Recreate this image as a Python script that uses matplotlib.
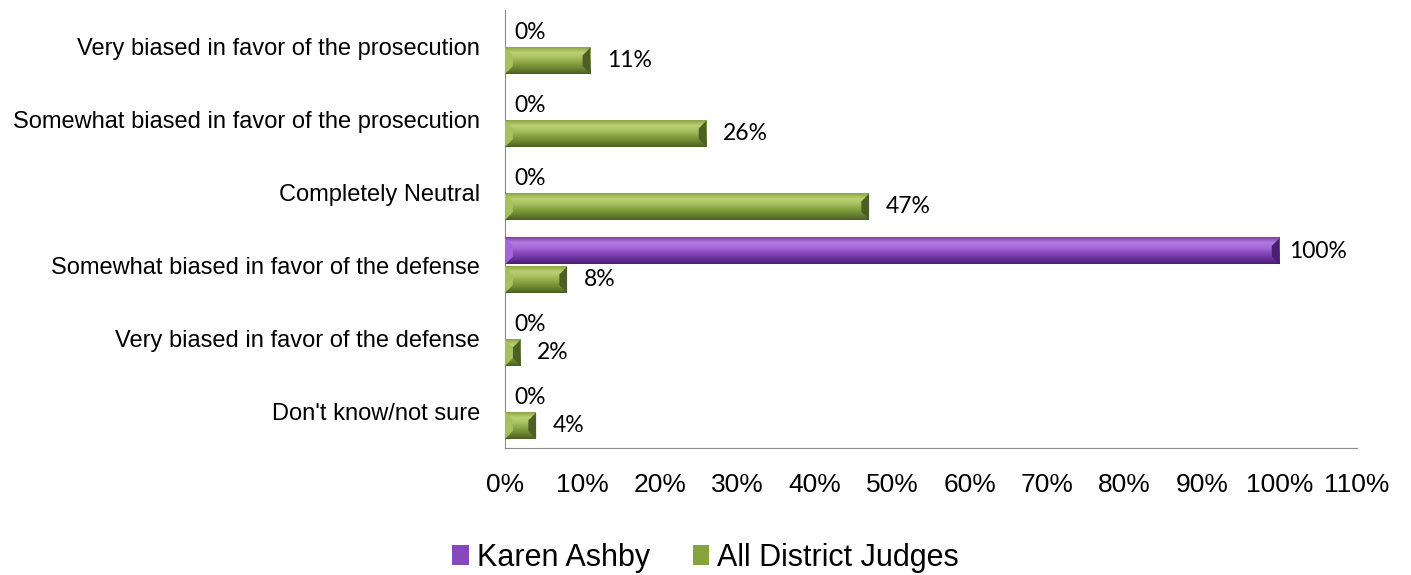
import matplotlib.pyplot as plt
from matplotlib.patches import Polygon
from matplotlib.colors import LinearSegmentedColormap
import numpy as np

categories = ['Very biased in favor of the prosecution',
              'Somewhat biased in favor of the prosecution',
              'Completely Neutral',
              'Somewhat biased in favor of the defense',
              'Very biased in favor of the defense',
              "Don't know/not sure"]
karen = [0, 0, 0, 100, 0, 0]
judges = [11, 26, 47, 8, 2, 4]
xticks = np.arange(0, 111, 10)

# top -> bottom shading of the bars
purple = ['#7c40b0', '#b37ce0', '#a468d6', '#8748bc', '#6a329c', '#4a1f6e']
green = ['#8ca448', '#bad174', '#a6c062', '#87a23f', '#6a8432', '#4b6024']

fig = plt.figure(figsize=(14.11, 5.75), dpi=100)
ax = fig.add_axes([0.358, 0.2209, 0.6037, 0.7617])

y = np.arange(len(categories))
h = 0.36
off = 0.195


def bevel(ax, bar, cols):
    # fake 3d bevel like the office chart
    x0, y0 = bar.get_x(), bar.get_y()
    w, hh = bar.get_width(), bar.get_height()
    if w <= 0:
        return
    x1, y1 = x0 + w, y0 + hh
    cmap = LinearSegmentedColormap.from_list('b', cols)
    grad = np.linspace(0, 1, 64).reshape(-1, 1)
    ax.imshow(grad, cmap=cmap, extent=(x0, x1, y1, y0), aspect='auto',
              interpolation='bilinear', zorder=3)
    bx = min(1.0, w / 2)
    by = hh * 0.3
    ax.add_patch(Polygon([[x1, y0], [x1, y1], [x1 - bx, y1 - by], [x1 - bx, y0 + by]],
                         closed=True, fc=cols[-1], ec='none', zorder=4))
    ax.add_patch(Polygon([[x0, y0], [x0, y1], [x0 + bx, y1 - by], [x0 + bx, y0 + by]],
                         closed=True, fc=cols[2], ec='none', zorder=4))


b1 = ax.barh(y - off, karen, height=h, color=purple[3], label='Karen Ashby', zorder=2)
b2 = ax.barh(y + off, judges, height=h, color=green[3], label='All District Judges', zorder=2)
for b in b1:
    bevel(ax, b, purple)
for b in b2:
    bevel(ax, b, green)

for yy, v in zip(y - off, karen):
    ax.annotate(f'{v}%', (v, yy), xytext=(7, 0), textcoords='offset points',
                va='center', ha='left', fontsize=16.5, family='Lato')
for yy, v in zip(y + off, judges):
    ax.annotate(f'{v}%', (v, yy), xytext=(12, 0), textcoords='offset points',
                va='center', ha='left', fontsize=16.5, family='Lato')

ax.set_xlim(0, 110)
ax.set_ylim(len(categories) - 0.5, -0.5)
ax.set_yticks(y)
ax.set_yticklabels(categories, fontsize=17, family='Liberation Sans')
ax.set_xticks(xticks)
ax.set_xticklabels([f'{t}%' for t in xticks], fontsize=19, family='Liberation Sans')
ax.tick_params(axis='y', length=0, pad=18)
ax.tick_params(axis='x', length=0, pad=18)
for s in ['top', 'right']:
    ax.spines[s].set_visible(False)
for s in ['left', 'bottom']:
    ax.spines[s].set_color('#8c8c8c')

fig.legend(handles=[b1, b2], loc='center', bbox_to_anchor=(0.5, 0.03), ncol=2,
           frameon=False, prop={'family': 'Liberation Sans', 'size': 22},
           handlelength=0.55, handleheight=0.6, handletextpad=0.25, columnspacing=1.4,
           borderpad=0)

fig.savefig('out.png', dpi=100)
